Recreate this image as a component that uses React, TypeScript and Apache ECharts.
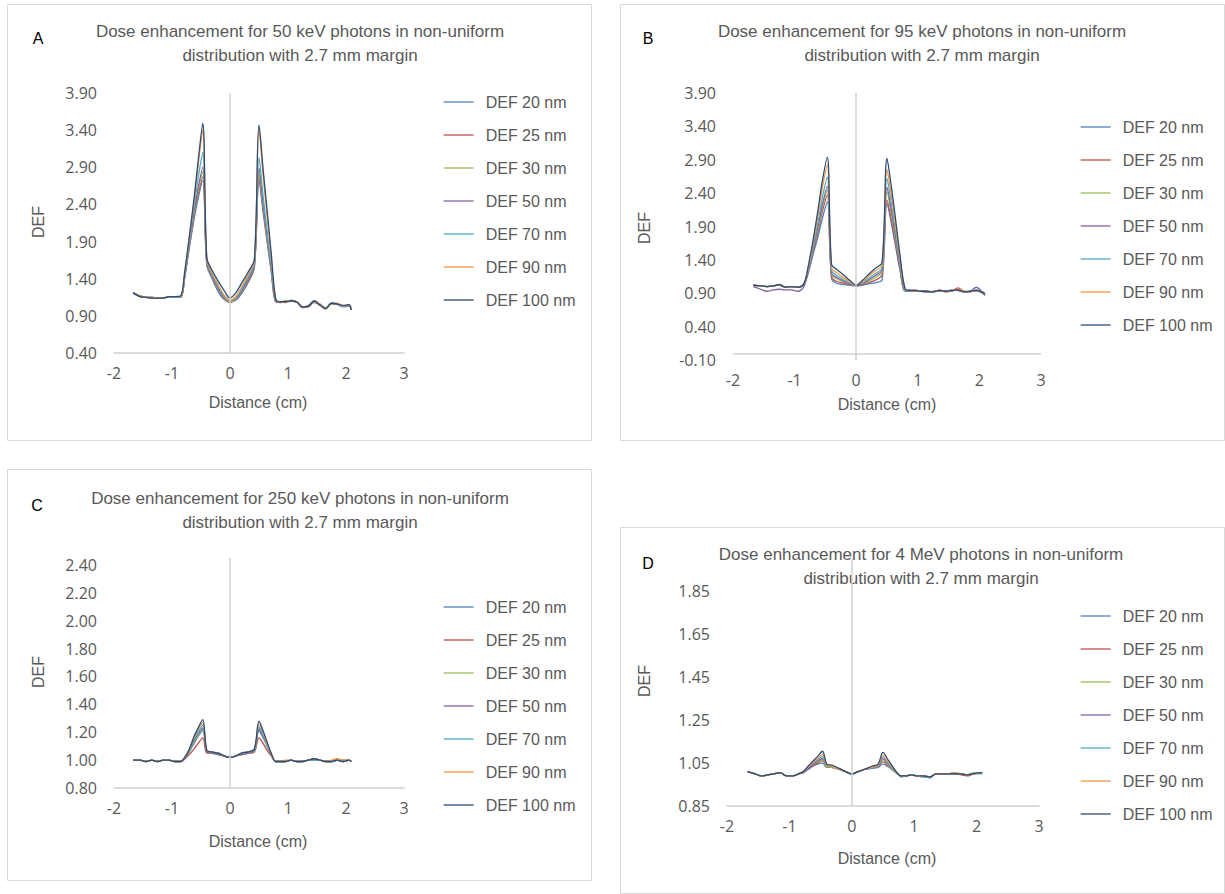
import React, { useEffect, useRef } from 'react';
import * as echarts from 'echarts';

// Distance (cm) sample positions shared by all panels
const X = [
  -1.67, -1.55, -1.45, -1.35, -1.25, -1.15, -1.05, -0.95, -0.85,
  -0.78, -0.7, -0.62, -0.55, -0.47,
  -0.4, -0.32, -0.2, -0.1, 0,
  0.1, 0.2, 0.32, 0.42, 0.5,
  0.57, 0.64, 0.71, 0.79,
  0.87, 0.95, 1.05, 1.15, 1.25, 1.35, 1.45, 1.55, 1.65, 1.75, 1.85, 1.95, 2.05, 2.09,
];

const NAMES = ['DEF 20 nm', 'DEF 25 nm', 'DEF 30 nm', 'DEF 50 nm', 'DEF 70 nm', 'DEF 90 nm', 'DEF 100 nm'];
const COLORS = ['#4F81BD', '#C0504D', '#9BBB59', '#8064A2', '#4BACC6', '#F79646', '#2C4D75'];

// Panel A: 50 keV
const A_20 = [1.21,1.16,1.15,1.15,1.14,1.14,1.16,1.15,1.15, 1.42,1.82,2.20,2.48,2.72, 1.58,1.42,1.22,1.12,1.09, 1.11,1.20,1.36,1.55,2.72, 2.30,1.90,1.50,1.09, 1.08,1.09,1.10,1.08,1.02,1.03,1.08,1.06,1.00,1.06,1.05,1.02,1.03,0.98];
const A_25 = [1.21,1.17,1.15,1.14,1.14,1.14,1.16,1.16,1.15, 1.43,1.84,2.24,2.53,2.77, 1.60,1.44,1.25,1.13,1.08, 1.12,1.22,1.38,1.57,2.77, 2.34,1.92,1.52,1.09, 1.09,1.08,1.10,1.09,1.01,1.02,1.09,1.04,0.99,1.07,1.06,1.03,1.04,0.99];
const A_30 = [1.21,1.16,1.15,1.15,1.14,1.14,1.16,1.15,1.15, 1.44,1.86,2.27,2.58,2.84, 1.61,1.45,1.26,1.14,1.09, 1.12,1.23,1.40,1.58,2.82, 2.38,1.95,1.53,1.10, 1.09,1.09,1.11,1.09,1.02,1.03,1.10,1.05,1.00,1.06,1.06,1.03,1.05,0.99];
const A_50 = [1.21,1.17,1.15,1.15,1.14,1.14,1.16,1.16,1.15, 1.44,1.87,2.30,2.62,2.90, 1.62,1.46,1.27,1.15,1.10, 1.13,1.24,1.41,1.59,2.89, 2.42,1.97,1.54,1.10, 1.08,1.10,1.10,1.08,1.01,1.03,1.09,1.05,1.00,1.07,1.06,1.03,1.04,0.98];
const A_70 = [1.21,1.16,1.15,1.15,1.14,1.14,1.16,1.15,1.16, 1.46,1.90,2.36,2.75,3.10, 1.64,1.48,1.29,1.16,1.10, 1.14,1.26,1.44,1.61,3.03, 2.52,2.04,1.58,1.11, 1.09,1.09,1.11,1.09,1.02,1.04,1.10,1.05,1.01,1.07,1.06,1.03,1.04,0.99];
const A_90 = [1.21,1.17,1.15,1.15,1.14,1.14,1.16,1.16,1.16, 1.48,1.95,2.44,2.92,3.40, 1.66,1.50,1.31,1.18,1.11, 1.16,1.29,1.47,1.63,3.42, 2.80,2.24,1.68,1.12, 1.08,1.10,1.10,1.08,1.02,1.03,1.09,1.06,1.00,1.06,1.07,1.03,1.05,0.99];
const A_100 = [1.21,1.16,1.15,1.14,1.14,1.14,1.16,1.16,1.17, 1.50,1.98,2.48,2.98,3.49, 1.68,1.53,1.36,1.24,1.14, 1.21,1.34,1.50,1.66,3.47, 2.88,2.32,1.75,1.12, 1.09,1.09,1.10,1.09,1.02,1.03,1.10,1.05,1.00,1.07,1.06,1.04,1.05,0.98];

// Panel B: 95 keV
const B_20 = [1.02,1.01,1.00,1.01,1.02,0.99,1.00,0.99,1.03, 1.20,1.48,1.75,2.02,2.27, 1.12,1.05,1.03,1.02,1.01, 1.02,1.04,1.06,1.10,2.25, 1.95,1.60,1.25,0.93, 0.94,0.94,0.93,0.92,0.92,0.94,0.93,0.94,0.95,0.92,0.93,0.94,0.91,0.88];
const B_25 = [1.02,1.01,1.00,1.01,1.03,0.99,1.00,0.99,1.04, 1.22,1.52,1.82,2.12,2.37, 1.15,1.08,1.05,1.03,1.01, 1.03,1.06,1.10,1.18,2.30, 2.00,1.64,1.28,0.94, 0.95,0.93,0.94,0.93,0.92,0.95,0.92,0.93,0.98,0.93,0.92,0.95,0.92,0.89];
const B_30 = [1.02,1.01,1.00,1.01,1.03,0.99,1.00,0.99,1.04, 1.23,1.55,1.86,2.18,2.44, 1.18,1.12,1.07,1.04,1.02, 1.04,1.08,1.14,1.22,2.42, 2.10,1.70,1.32,0.94, 0.94,0.94,0.93,0.93,0.92,0.94,0.93,0.94,0.95,0.92,0.93,0.94,0.92,0.89];
const B_50 = [1.00,0.96,0.93,0.95,0.96,0.95,0.95,0.93,1.00, 1.23,1.56,1.90,2.22,2.50, 1.20,1.14,1.08,1.04,1.02, 1.04,1.10,1.17,1.25,2.49, 2.15,1.74,1.34,0.95, 0.94,0.95,0.93,0.92,0.93,0.94,0.93,0.95,0.94,0.92,0.93,0.99,0.92,0.89];
const B_70 = [1.02,1.01,1.00,1.01,1.03,0.99,1.00,0.99,1.04, 1.25,1.60,1.97,2.33,2.64, 1.24,1.17,1.10,1.05,1.02, 1.05,1.12,1.20,1.28,2.62, 2.25,1.82,1.38,0.96, 0.93,0.94,0.93,0.93,0.92,0.94,0.93,0.94,0.95,0.93,0.93,0.95,0.90,0.86];
const B_90 = [1.02,1.01,1.00,1.01,1.03,0.99,1.00,0.99,1.04, 1.27,1.65,2.07,2.48,2.82, 1.28,1.21,1.13,1.07,1.02, 1.07,1.15,1.24,1.32,2.75, 2.37,1.90,1.43,0.97, 0.94,0.93,0.94,0.93,0.92,0.94,0.92,0.94,0.96,0.93,0.92,0.94,0.91,0.88];
const B_100 = [1.02,1.01,1.00,1.01,1.03,0.99,1.00,0.99,1.04, 1.30,1.70,2.15,2.58,2.94, 1.33,1.26,1.17,1.09,1.02, 1.09,1.18,1.28,1.36,2.92, 2.50,2.00,1.48,0.98, 0.94,0.94,0.93,0.93,0.92,0.94,0.93,0.94,0.95,0.92,0.93,0.94,0.91,0.89];

// Panel C: 250 keV
const C_20 = [1.00,1.00,0.99,1.00,0.99,1.00,1.00,0.99,0.99, 1.01,1.06,1.12,1.17,1.21, 1.06,1.05,1.04,1.03,1.02, 1.03,1.04,1.05,1.06,1.21, 1.16,1.10,1.04,0.99, 0.99,0.99,1.00,0.99,0.99,1.00,1.00,1.00,0.99,0.99,1.00,0.99,1.00,0.99];
const C_25 = [1.00,1.00,0.99,1.00,0.99,1.00,1.00,0.99,0.99, 1.01,1.04,1.08,1.12,1.16, 1.05,1.05,1.04,1.03,1.02, 1.03,1.04,1.05,1.06,1.16, 1.12,1.07,1.03,0.99, 0.99,0.99,1.00,0.99,0.99,1.00,1.01,1.00,0.99,0.99,1.00,1.00,1.00,0.99];
const C_30 = [1.00,1.00,0.99,1.00,0.99,1.00,1.00,0.99,0.99, 1.01,1.06,1.13,1.18,1.22, 1.06,1.05,1.04,1.03,1.02, 1.03,1.04,1.05,1.07,1.23, 1.17,1.10,1.04,0.99, 0.99,0.99,1.00,0.99,0.99,1.00,1.00,1.00,0.99,0.99,1.01,0.99,1.00,0.99];
const C_50 = [1.00,1.00,0.99,1.00,0.99,1.00,1.00,0.99,0.99, 1.01,1.07,1.14,1.19,1.23, 1.06,1.05,1.04,1.03,1.02, 1.03,1.04,1.05,1.07,1.22, 1.17,1.11,1.04,0.99, 0.99,0.99,1.00,0.99,0.99,1.00,1.01,1.00,0.99,0.99,1.00,0.99,1.00,0.99];
const C_70 = [1.00,1.00,0.99,1.00,0.99,1.00,1.00,0.99,0.99, 1.02,1.07,1.15,1.20,1.25, 1.07,1.06,1.05,1.03,1.02, 1.03,1.05,1.06,1.07,1.24, 1.18,1.11,1.04,0.99, 0.99,0.99,1.00,0.99,0.99,1.00,1.00,1.00,0.99,0.99,1.00,0.99,1.00,0.99];
const C_90 = [1.00,1.00,0.99,1.00,0.99,1.00,1.00,0.99,0.99, 1.02,1.08,1.16,1.22,1.27, 1.07,1.06,1.05,1.03,1.02, 1.03,1.05,1.06,1.08,1.26, 1.20,1.12,1.05,0.99, 0.99,1.00,1.00,0.99,0.99,1.00,1.01,1.00,0.99,1.00,1.01,1.00,1.00,0.99];
const C_100 = [1.00,1.00,0.99,1.00,0.99,1.00,1.00,0.99,0.99, 1.02,1.08,1.17,1.23,1.29, 1.07,1.06,1.05,1.03,1.02, 1.03,1.05,1.06,1.08,1.28, 1.21,1.13,1.05,0.99, 0.99,0.99,1.00,0.99,0.99,1.00,1.01,1.00,0.99,0.99,1.00,0.99,1.00,0.99];

// Panel D: 4 MeV
const D_20 = [1.01,1.00,0.99,0.995,1.00,1.005,0.99,0.99,1.00, 1.005,1.02,1.035,1.045,1.05, 1.03,1.03,1.02,1.01,1.00, 1.01,1.02,1.025,1.03,1.045, 1.035,1.02,1.005,0.99, 0.99,0.995,0.99,0.985,0.985,1.00,1.00,1.00,1.00,1.00,0.995,1.00,1.005,1.005];
const D_25 = [1.01,1.00,0.99,0.995,1.00,1.005,0.99,0.99,1.00, 1.005,1.025,1.04,1.05,1.06, 1.035,1.03,1.02,1.01,1.00, 1.01,1.02,1.03,1.035,1.055, 1.04,1.025,1.005,0.99, 0.99,0.995,0.99,0.99,0.985,1.00,1.00,1.00,1.005,0.995,0.99,1.00,1.005,1.005];
const D_30 = [1.01,1.00,0.99,0.995,1.00,1.005,0.99,0.99,1.00, 1.005,1.025,1.045,1.055,1.065, 1.035,1.03,1.02,1.01,1.00, 1.01,1.02,1.03,1.035,1.06, 1.045,1.025,1.005,0.99, 0.99,0.995,0.99,0.99,0.985,1.00,1.00,1.00,1.00,1.00,0.995,1.005,1.005,1.005];
const D_50 = [1.01,1.00,0.99,0.995,1.00,1.005,0.99,0.99,1.00, 1.005,1.025,1.045,1.06,1.07, 1.04,1.035,1.02,1.01,1.00, 1.01,1.02,1.03,1.035,1.07, 1.05,1.03,1.01,0.99, 0.99,0.995,0.99,0.99,0.985,1.00,1.00,1.00,1.00,1.00,0.995,1.00,1.005,1.005];
const D_70 = [1.01,1.00,0.99,0.995,1.00,1.005,0.99,0.99,1.00, 1.01,1.03,1.05,1.065,1.08, 1.04,1.035,1.02,1.01,1.00, 1.01,1.02,1.03,1.04,1.075, 1.055,1.03,1.01,0.985, 0.99,0.995,0.99,0.99,0.98,1.00,1.00,1.00,1.00,1.00,0.995,1.00,1.00,1.00];
const D_90 = [1.01,1.00,0.99,0.995,1.00,1.005,0.99,0.99,1.00, 1.01,1.03,1.055,1.07,1.09, 1.04,1.035,1.02,1.01,1.00, 1.01,1.02,1.03,1.04,1.085, 1.06,1.035,1.01,0.99, 0.99,0.995,0.99,0.99,0.985,1.00,1.00,1.00,1.005,1.00,0.995,1.00,1.005,1.005];
const D_100 = [1.01,1.00,0.99,0.995,1.00,1.005,0.99,0.99,1.00, 1.01,1.035,1.06,1.08,1.105, 1.045,1.04,1.025,1.01,1.00, 1.01,1.02,1.035,1.045,1.10, 1.07,1.04,1.01,0.99, 0.99,0.995,0.99,0.99,0.985,1.00,1.00,1.00,1.00,1.00,0.995,1.00,1.005,1.005];

// Tick labels
const X_TICKS = [-2, -1, 0, 1, 2, 3];
const Y_TICKS_A = [0.4, 0.9, 1.4, 1.9, 2.4, 2.9, 3.4, 3.9];
const Y_TICKS_B = [-0.1, 0.4, 0.9, 1.4, 1.9, 2.4, 2.9, 3.4, 3.9];
const Y_TICKS_C = [0.8, 1.0, 1.2, 1.4, 1.6, 1.8, 2.0, 2.2, 2.4];
const Y_TICKS_D = [0.85, 1.05, 1.25, 1.45, 1.65, 1.85];

const TITLES = [
  ['Dose enhancement for 50 keV photons in non-uniform', 'distribution with 2.7 mm margin'],
  ['Dose enhancement for 95 keV photons in non-uniform', 'distribution with 2.7 mm margin'],
  ['Dose enhancement for 250 keV photons in non-uniform', 'distribution with 2.7 mm margin'],
  ['Dose enhancement for 4 MeV photons in non-uniform', 'distribution with 2.7 mm margin'],
];
const LETTERS = ['A', 'B', 'C', 'D'];
const Y_NAME = 'DEF';
const X_NAME = 'Distance (cm)';

const GRAY = '#595959';
const TICK_FONT = 'Open Sans';
const TEXT_FONT = 'Liberation Sans';

function buildOption() {
  const panels = [
    { data: [A_20, A_25, A_30, A_50, A_70, A_90, A_100], yMin: 0.4, yMax: 3.9, ticks: Y_TICKS_A, zeroH: false,
      grid: { left: 114, top: 93, width: 290, height: 260 }, legend: { left: 438, top: 89 },
      frame: [7.5, 4.5, 584, 436], letter: [38, 38], title: [300, 31], def: [38, 222], dist: [258, 402] },
    { data: [B_20, B_25, B_30, B_50, B_70, B_90, B_100], yMin: -0.1, yMax: 3.9, ticks: Y_TICKS_B, zeroH: true,
      grid: { left: 733, top: 93, width: 308, height: 267 }, legend: { left: 1075, top: 114 },
      frame: [620.5, 4.5, 604, 436], letter: [648, 38], title: [922, 31], def: [644, 228], dist: [887, 404] },
    { data: [C_20, C_25, C_30, C_50, C_70, C_90, C_100], yMin: 0.8, yMax: 2.45, ticks: Y_TICKS_C, zeroH: false,
      grid: { left: 114, top: 558, width: 290, height: 230 }, legend: { left: 438, top: 594 },
      frame: [7.5, 469.5, 584, 411], letter: [37, 505], title: [300, 498], def: [38, 672], dist: [258, 841] },
    { data: [D_20, D_25, D_30, D_50, D_70, D_90, D_100], yMin: 0.85, yMax: 2.0, ticks: Y_TICKS_D, zeroH: false,
      grid: { left: 727, top: 559, width: 312, height: 247 }, legend: { left: 1075, top: 603 },
      frame: [620.5, 527.5, 604, 366], letter: [648, 563], title: [921, 554], def: [644, 681], dist: [887, 858] },
  ];

  const grid: any[] = [];
  const xAxis: any[] = [];
  const yAxis: any[] = [];
  const legend: any[] = [];
  const series: any[] = [];
  const graphic: any[] = [];

  panels.forEach((p, pi) => {
    grid.push({ ...p.grid, containLabel: false });
    xAxis.push({
      type: 'value', gridIndex: pi, min: X_TICKS[0], max: X_TICKS[X_TICKS.length - 1], interval: 1,
      axisLine: { show: !p.zeroH, onZero: false, lineStyle: { color: '#d0d0d0', width: 1.5 } },
      axisTick: { show: false }, splitLine: { show: false },
      axisLabel: { color: GRAY, fontSize: 16, fontFamily: TICK_FONT, margin: 12 },
    });
    yAxis.push({
      type: 'value', gridIndex: pi, min: p.yMin, max: p.yMax,
      axisLine: { show: false }, axisTick: { show: false }, splitLine: { show: false },
      axisLabel: {
        customValues: p.ticks, color: GRAY, fontSize: 16, fontFamily: TICK_FONT, margin: 17,
        formatter: (v: number) => v.toFixed(2),
      },
    });
    legend.push({
      left: p.legend.left, top: p.legend.top, orient: 'vertical', selectedMode: false,
      itemWidth: 30, itemHeight: 16, itemGap: 17, data: NAMES,
      itemStyle: { opacity: 0 },
      lineStyle: { width: 1.3 },
      textStyle: { color: GRAY, fontSize: 16, fontFamily: TEXT_FONT, padding: [0, 0, 0, 7] },
    });
    p.data.forEach((arr, si) => {
      const s: any = {
        type: 'line', name: NAMES[si], xAxisIndex: pi, yAxisIndex: pi,
        data: X.map((x, i) => [x, arr[i]]),
        showSymbol: false, symbol: 'none', smooth: 0.35,
        lineStyle: { width: 1.3, color: COLORS[si] }, itemStyle: { color: COLORS[si] },
        emphasis: { disabled: true }, z: 3,
      };
      if (si === 0) {
        const ml: any[] = [{ xAxis: 0 }];
        if (p.zeroH) ml.push({ yAxis: 0 });
        s.markLine = {
          silent: true, symbol: ['none', 'none'], label: { show: false }, animation: false,
          lineStyle: { color: '#d0d0d0', width: 1.5, type: 'solid' }, data: ml,
        };
      }
      series.push(s);
    });

    const [fx, fy, fw, fh] = p.frame;
    graphic.push({ type: 'rect', shape: { x: fx, y: fy, width: fw, height: fh }, style: { fill: 'none', stroke: '#d9d9d9', lineWidth: 1 }, z: 0 });
    graphic.push({ type: 'text', x: p.letter[0], y: p.letter[1], style: { text: LETTERS[pi], fill: '#000', font: `16px ${TEXT_FONT}`, align: 'center', verticalAlign: 'middle' } });
    graphic.push({ type: 'text', x: p.title[0], y: p.title[1], style: { text: TITLES[pi][0], fill: GRAY, font: `17px ${TEXT_FONT}`, align: 'center', verticalAlign: 'middle' } });
    graphic.push({ type: 'text', x: p.title[0], y: p.title[1] + 24, style: { text: TITLES[pi][1], fill: GRAY, font: `17px ${TEXT_FONT}`, align: 'center', verticalAlign: 'middle' } });
    graphic.push({ type: 'text', x: p.def[0], y: p.def[1], rotation: Math.PI / 2, style: { text: Y_NAME, fill: GRAY, font: `16px ${TEXT_FONT}`, align: 'center', verticalAlign: 'middle' } });
    graphic.push({ type: 'text', x: p.dist[0], y: p.dist[1], style: { text: X_NAME, fill: GRAY, font: `16px ${TEXT_FONT}`, align: 'center', verticalAlign: 'middle' } });
  });

  return { animation: false, backgroundColor: '#fff', grid, xAxis, yAxis, legend, series, graphic };
}

export default function App() {
  const ref = useRef<HTMLDivElement>(null);
  useEffect(() => {
    document.body.style.margin = '0';
    const chart = echarts.init(ref.current!, null, { renderer: 'svg' });
    chart.setOption(buildOption() as any);
    return () => chart.dispose();
  }, []);
  return <div ref={ref} style={{ width: 1225, height: 894, background: '#fff' }} />;
}
